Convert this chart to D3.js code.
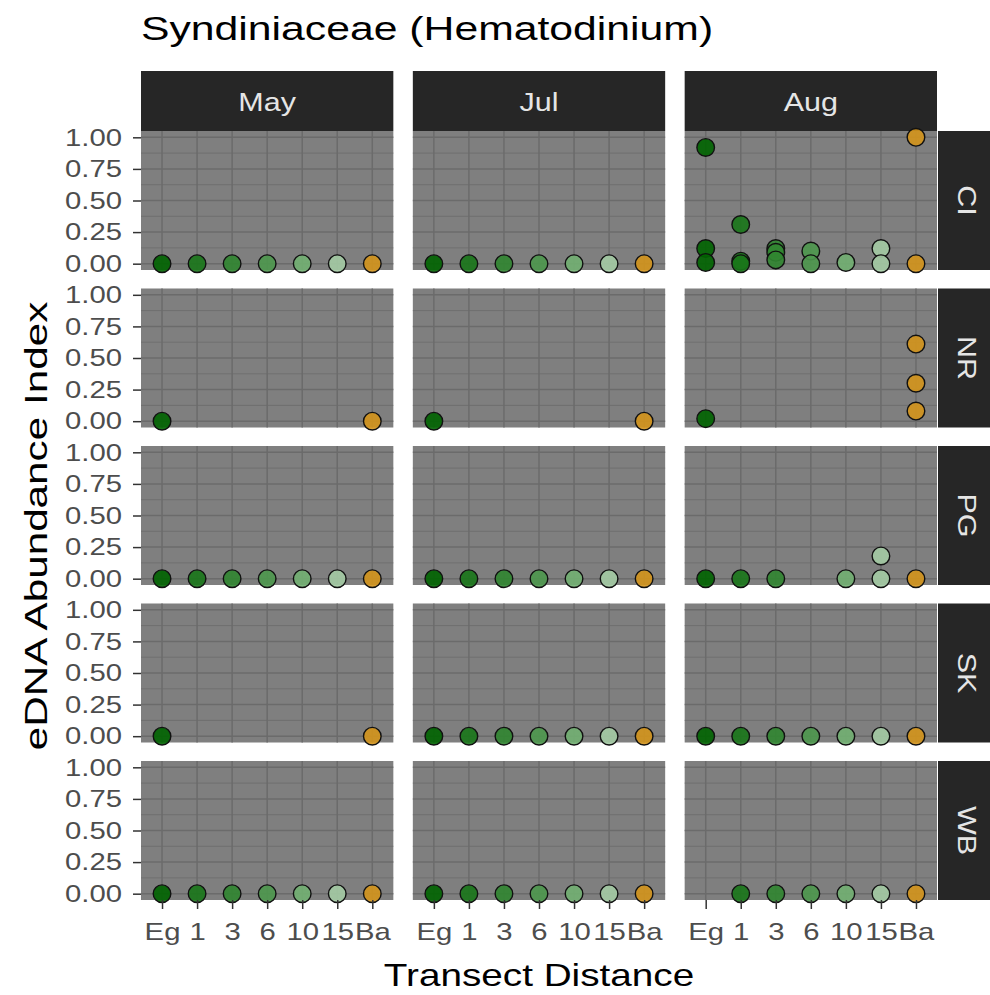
<!DOCTYPE html>
<html>
<head>
<meta charset="utf-8">
<script src="https://cdn.jsdelivr.net/npm/d3@7"></script>
<style>
  body { margin: 0; background: #fff; }
  text { font-family: "Liberation Sans", Arial, Helvetica, sans-serif; }
</style>
</head>
<body>
<svg id="chart"></svg>
<script>
// Facets and categories
var months = ["May", "Jul", "Aug"];
var sites = ["CI", "NR", "PG", "SK", "WB"];
var distances = ["Eg", "1", "3", "6", "10", "15", "Ba"];
var yTicks = [0, 0.25, 0.5, 0.75, 1];
var yTickLabels = ["0.00", "0.25", "0.50", "0.75", "1.00"];
var distColors = ["#006400", "#1a771a", "#318631", "#4e984e", "#72b072", "#a4cba4", "#d4951c"];

// eDNA abundance index values, one list per distance (Eg,1,3,6,10,15,Ba)
var mayCI = [[0], [0], [0], [0], [0], [0], [0]];
var mayNR = [[0], [], [], [], [], [], [0]];
var mayPG = [[0], [0], [0], [0], [0], [0], [0]];
var maySK = [[0], [], [], [], [], [], [0]];
var mayWB = [[0], [0], [0], [0], [0], [0], [0]];

var julCI = [[0], [0], [0], [0], [0], [0], [0]];
var julNR = [[0], [], [], [], [], [], [0]];
var julPG = [[0], [0], [0], [0], [0], [0], [0]];
var julSK = [[0], [0], [0], [0], [0], [0], [0]];
var julWB = [[0], [0], [0], [0], [0], [0], [0]];

var augCI = [[0.92, 0.12, 0.01], [0.31, 0.02, 0.0], [0.12, 0.09, 0.03], [0.1, 0.0], [0.01], [0.12, 0.0], [1.0, 0.0]];
var augNR = [[0.02], [], [], [], [], [], [0.61, 0.3, 0.08]];
var augPG = [[0], [0], [0], [], [0], [0.18, 0], [0]];
var augSK = [[0], [0], [0], [0], [0], [0], [0]];
var augWB = [[], [0], [0], [0], [0], [0], [0]];

var panelData = {
  May: { CI: mayCI, NR: mayNR, PG: mayPG, SK: maySK, WB: mayWB },
  Jul: { CI: julCI, NR: julNR, PG: julPG, SK: julSK, WB: julWB },
  Aug: { CI: augCI, NR: augNR, PG: augPG, SK: augSK, WB: augWB }
};

// Layout
var width = 990, height = 995;
var plotLeft = 141, plotRight = 937, plotTop = 131, plotBottom = 900;
var gapX = 19.5, gapY = 18.5;
var stripH = 60;
var panelW = (plotRight - plotLeft - gapX * (months.length - 1)) / months.length;
var panelH = (plotBottom - plotTop - gapY * (sites.length - 1)) / sites.length;

// the reference text is drawn wider than Arial, stretch along the text direction
var stretch = 1.22;

var svg = d3.select("#chart")
  .attr("width", width)
  .attr("height", height);

var x = d3.scalePoint().domain(distances).range([0, panelW]).padding(0.6);
var y = d3.scaleLinear().domain([-0.05, 1.05]).range([panelH, 0]);
var yMinor = [0.125, 0.375, 0.625, 0.875];
var color = d3.scaleOrdinal().domain(distances).range(distColors);

// Title
svg.append("text")
  .attr("transform", "translate(" + plotLeft + ",40) scale(1.295,1)")
  .attr("font-size", 33)
  .attr("fill", "#000")
  .text("Syndiniaceae (Hematodinium)");

// Column strips
months.forEach(function(m, ci) {
  var px = plotLeft + ci * (panelW + gapX);
  svg.append("rect")
    .attr("x", px).attr("y", plotTop - stripH)
    .attr("width", panelW).attr("height", stripH)
    .attr("fill", "#262626");
  svg.append("text")
    .attr("transform", "translate(" + (px + panelW / 2) + "," + (plotTop - stripH / 2) + ") scale(" + stretch + ",1)")
    .attr("dy", "0.38em")
    .attr("text-anchor", "middle")
    .attr("font-size", 25)
    .attr("fill", "#e5e5e5")
    .text(m);
});

// Row strips
sites.forEach(function(s, ri) {
  var py = plotTop + ri * (panelH + gapY);
  svg.append("rect")
    .attr("x", plotRight + 1).attr("y", py)
    .attr("width", stripH).attr("height", panelH)
    .attr("fill", "#262626");
  svg.append("text")
    .attr("transform", "translate(" + (plotRight + 1 + 30) + "," + (py + panelH / 2) + ") rotate(90) scale(" + stretch + ",1)")
    .attr("dy", "0.38em")
    .attr("text-anchor", "middle")
    .attr("font-size", 25)
    .attr("fill", "#e5e5e5")
    .text(s);
});

// stretch the tick labels made by d3 axes
function stretchTicks(sel) {
  sel.each(function() {
    var t = d3.select(this);
    var tx = +t.attr("x") || 0, ty = +t.attr("y") || 0;
    t.attr("x", null).attr("y", null)
      .attr("transform", "translate(" + tx + "," + ty + ") scale(" + stretch + ",1)");
  });
}

// Panels
sites.forEach(function(s, ri) {
  months.forEach(function(m, ci) {
    var px = plotLeft + ci * (panelW + gapX);
    var py = plotTop + ri * (panelH + gapY);
    var g = svg.append("g").attr("transform", "translate(" + px + "," + py + ")");

    g.append("rect")
      .attr("width", panelW).attr("height", panelH)
      .attr("fill", "#7f7f7f");

    // minor grid
    g.selectAll(".minor").data(yMinor).enter().append("line")
      .attr("x1", 0).attr("x2", panelW)
      .attr("y1", function(d) { return y(d); })
      .attr("y2", function(d) { return y(d); })
      .attr("stroke", "#6b6b6b").attr("stroke-width", 0.8);

    // major grid
    g.selectAll(".hmajor").data(yTicks).enter().append("line")
      .attr("x1", 0).attr("x2", panelW)
      .attr("y1", function(d) { return y(d); })
      .attr("y2", function(d) { return y(d); })
      .attr("stroke", "#6b6b6b").attr("stroke-width", 1.5);
    g.selectAll(".vmajor").data(distances).enter().append("line")
      .attr("y1", 0).attr("y2", panelH)
      .attr("x1", function(d) { return x(d); })
      .attr("x2", function(d) { return x(d); })
      .attr("stroke", "#6b6b6b").attr("stroke-width", 1.5);

    // points
    var vals = panelData[m][s];
    var pts = [];
    distances.forEach(function(d, di) {
      vals[di].forEach(function(v) { pts.push({ dist: d, value: v }); });
    });
    g.selectAll(".pt").data(pts).enter().append("circle")
      .attr("cx", function(d) { return x(d.dist); })
      .attr("cy", function(d) { return y(d.value); })
      .attr("r", 8.8)
      .attr("fill", function(d) { return color(d.dist); })
      .attr("fill-opacity", 0.9)
      .attr("stroke", "#111")
      .attr("stroke-width", 1.4);

    // y axis on first column
    if (ci === 0) {
      var ya = g.append("g")
        .call(d3.axisLeft(y).tickValues(yTicks)
          .tickFormat(function(d, i) { return yTickLabels[i]; })
          .tickSize(8).tickPadding(11));
      ya.select(".domain").remove();
      ya.selectAll("line").attr("stroke", "#333").attr("stroke-width", 1.5);
      ya.selectAll("text").attr("font-size", 24).attr("fill", "#4d4d4d")
        .attr("font-family", "Liberation Sans, Arial, sans-serif")
        .call(stretchTicks);
    }
    // x axis on last row
    if (ri === sites.length - 1) {
      var xa = g.append("g")
        .attr("transform", "translate(0," + panelH + ")")
        .call(d3.axisBottom(x).tickSize(9).tickPadding(14));
      xa.select(".domain").remove();
      xa.selectAll("line").attr("stroke", "#333").attr("stroke-width", 1.5);
      xa.selectAll("text").attr("font-size", 24).attr("fill", "#4d4d4d")
        .attr("font-family", "Liberation Sans, Arial, sans-serif")
        .call(stretchTicks);
    }
  });
});

// Axis titles
svg.append("text")
  .attr("transform", "translate(" + (plotLeft + plotRight) / 2 + ",986) scale(1.21,1)")
  .attr("text-anchor", "middle")
  .attr("font-size", 32)
  .attr("fill", "#000")
  .text("Transect Distance");

svg.append("text")
  .attr("transform", "translate(47,526) rotate(-90) scale(1.32,1)")
  .attr("text-anchor", "middle")
  .attr("font-size", 32)
  .attr("fill", "#000")
  .text("eDNA Abundance Index");
</script>
</body>
</html>
